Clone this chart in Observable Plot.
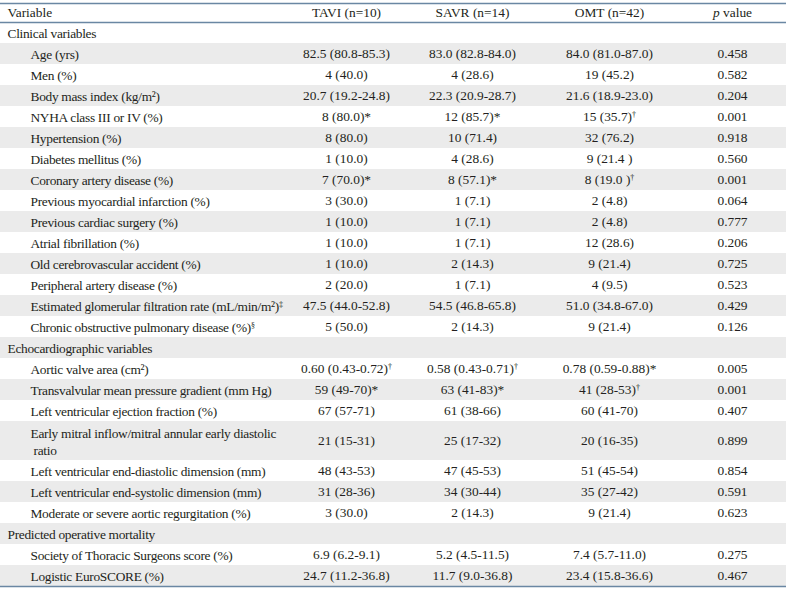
<!DOCTYPE html>
<html>
<head>
<meta charset="utf-8">
<script src="https://cdn.jsdelivr.net/npm/d3@7"></script>
<script src="https://cdn.jsdelivr.net/npm/@observablehq/plot@0.6"></script>
<style>
  html, body { margin: 0; padding: 0; background: #fff; }
  #chart svg { display: block; }
</style>
</head>
<body>
<div id="chart"></div>
<script>
// ---------- data ----------
const headers = ["Variable", "TAVI (n=10)", "SAVR (n=14)", "OMT (n=42)", "p value"];

const variables = [
  "Clinical variables",
  "Age (yrs)",
  "Men (%)",
  "Body mass index (kg/m²)",
  "NYHA class III or IV (%)",
  "Hypertension (%)",
  "Diabetes mellitus (%)",
  "Coronary artery disease (%)",
  "Previous myocardial infarction (%)",
  "Previous cardiac surgery (%)",
  "Atrial fibrillation (%)",
  "Old cerebrovascular accident (%)",
  "Peripheral artery disease (%)",
  "Estimated glomerular filtration rate (mL/min/m²)‡",
  "Chronic obstructive pulmonary disease (%)§",
  "Echocardiographic variables",
  "Aortic valve area (cm²)",
  "Transvalvular mean pressure gradient (mm Hg)",
  "Left ventricular ejection fraction (%)",
  "Early mitral inflow/mitral annular early diastolic\n\u00a0ratio",
  "Left ventricular end-diastolic dimension (mm)",
  "Left ventricular end-systolic dimension (mm)",
  "Moderate or severe aortic regurgitation (%)",
  "Predicted operative mortality",
  "Society of Thoracic Surgeons score (%)",
  "Logistic EuroSCORE (%)"
];

const sections = ["Clinical variables", "Echocardiographic variables", "Predicted operative mortality"];

const tavi = ["", "82.5 (80.8-85.3)", "4 (40.0)", "20.7 (19.2-24.8)", "8 (80.0)*", "8 (80.0)", "1 (10.0)", "7 (70.0)*", "3 (30.0)", "1 (10.0)", "1 (10.0)", "1 (10.0)", "2 (20.0)", "47.5 (44.0-52.8)", "5 (50.0)",
  "", "0.60 (0.43-0.72)†", "59 (49-70)*", "67 (57-71)", "21 (15-31)", "48 (43-53)", "31 (28-36)", "3 (30.0)",
  "", "6.9 (6.2-9.1)", "24.7 (11.2-36.8)"];

const savr = ["", "83.0 (82.8-84.0)", "4 (28.6)", "22.3 (20.9-28.7)", "12 (85.7)*", "10 (71.4)", "4 (28.6)", "8 (57.1)*", "1 (7.1)", "1 (7.1)", "1 (7.1)", "2 (14.3)", "1 (7.1)", "54.5 (46.8-65.8)", "2 (14.3)",
  "", "0.58 (0.43-0.71)†", "63 (41-83)*", "61 (38-66)", "25 (17-32)", "47 (45-53)", "34 (30-44)", "2 (14.3)",
  "", "5.2 (4.5-11.5)", "11.7 (9.0-36.8)"];

const omt = ["", "84.0 (81.0-87.0)", "19 (45.2)", "21.6 (18.9-23.0)", "15 (35.7)†", "32 (76.2)", "9 (21.4 )", "8 (19.0 )†", "2 (4.8)", "2 (4.8)", "12 (28.6)", "9 (21.4)", "4 (9.5)", "51.0 (34.8-67.0)", "9 (21.4)",
  "", "0.78 (0.59-0.88)*", "41 (28-53)†", "60 (41-70)", "20 (16-35)", "51 (45-54)", "35 (27-42)", "9 (21.4)",
  "", "7.4 (5.7-11.0)", "23.4 (15.8-36.6)"];

const pValues = ["", "0.458", "0.582", "0.204", "0.001", "0.918", "0.560", "0.001", "0.064", "0.777", "0.206", "0.725", "0.523", "0.429", "0.126",
  "", "0.005", "0.001", "0.407", "0.899", "0.854", "0.591", "0.623",
  "", "0.275", "0.467"];

// ---------- layout ----------
const W = 786, H = 589;
const FONT = "'Liberation Serif', 'Times New Roman', serif";
const FS = 13.4;
const INK = "#231f20";
const LINE = "#6a87a3";
const SHADE = "#ebebeb";
const headerUnits = 0.905;
const doubleUnits = 39 / 21;
// column centres as fractions of the width
const colX = [7 / W, 346 / W, 472 / W, 609 / W, 732 / W];
const labelIndent = 30 / W;

// row geometry in row units
let acc = headerUnits;
const rows = variables.map((v, i) => {
  const h = v.includes("\n") ? doubleUnits : 1;
  const r = {
    i, label: v, section: sections.includes(v),
    tavi: tavi[i], savr: savr[i], omt: omt[i], p: pValues[i],
    y1: acc, y2: acc + h, ym: acc + h / 2
  };
  acc += h;
  return r;
});
const total = acc;
const headerRows = headers.map((h, i) => ({h, i}));

const valueText = (key, col) => Plot.text(rows, {
  x: () => colX[col], y: "ym", text: key, textAnchor: "middle",
  fontSize: FS, fontFamily: FONT, fill: INK
});

const chart = Plot.plot({
  width: W, height: H,
  margin: 0,
  style: {fontFamily: FONT, background: "#fff"},
  x: {domain: [0, 1], range: [0, W], axis: null},
  y: {domain: [0, total], range: [3, 586], axis: null},
  marks: [
    Plot.rect(rows.filter(r => r.i % 2 === 1), {x1: () => 0, x2: () => 1, y1: "y1", y2: "y2", fill: SHADE}),
    Plot.ruleY([0, headerUnits, total], {stroke: LINE, strokeWidth: 1.3}),
    Plot.text(headerRows.filter(d => d.i === 0), {
      x: d => colX[d.i], y: () => headerUnits / 2 - 0.03, text: "h", textAnchor: "start",
      fontSize: FS, fontFamily: FONT, fill: INK
    }),
    Plot.text(headerRows.filter(d => d.i > 0), {
      x: d => colX[d.i], y: () => headerUnits / 2 - 0.03, text: "h", textAnchor: "middle",
      fontSize: FS, fontFamily: FONT, fill: INK
    }),
    Plot.text(rows, {
      x: d => d.section ? colX[0] : labelIndent, y: "ym", text: "label", textAnchor: "start",
      fontSize: FS, fontFamily: FONT, fill: INK, lineHeight: 1.27
    }),
    valueText("tavi", 1),
    valueText("savr", 2),
    valueText("omt", 3),
    valueText("p", 4)
  ]
});

// typographic touches: condensed labels, superscript marks, italic p
const labelSet = new Set(variables.flatMap(v => v.split("\n")));
d3.select(chart).selectAll("text").each(function () {
  const sel = d3.select(this);
  const s = this.textContent;
  if (labelSet.has(s) || (this.children.length && [...this.children].some(c => labelSet.has(c.textContent)))) {
    sel.attr("letter-spacing", "-0.3");
  }
  if (this.children.length) return;
  if (s === "p value") {
    sel.text(null);
    sel.append("tspan").attr("font-style", "italic").text("p");
    sel.append("tspan").text(" value");
    return;
  }
  if (!/[†‡§]/.test(s)) return;
  sel.text(null);
  s.split(/([†‡§])/).forEach(part => {
    if (!part) return;
    if (/[†‡§]/.test(part)) {
      sel.append("tspan").attr("font-size", "0.6em").attr("baseline-shift", "super").text(part);
    } else {
      sel.append("tspan").text(part);
    }
  });
});

document.getElementById("chart").appendChild(chart);
</script>
</body>
</html>
